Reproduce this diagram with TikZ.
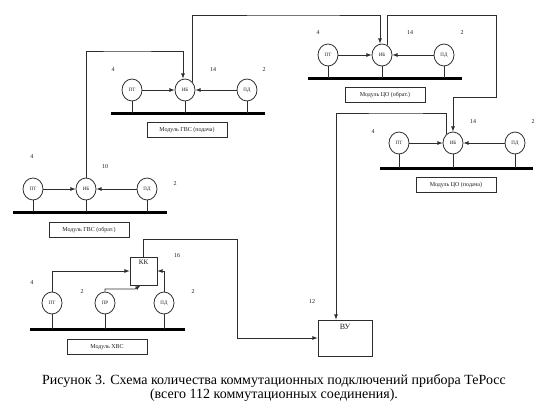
\documentclass[tikz,border=0pt]{standalone}
\usepackage{fontspec}
\setmainfont{Liberation Serif}
\usetikzlibrary{positioning,arrows,shapes.geometric}
\definecolor{colorline}{RGB}{45,45,45}
\definecolor{colortext}{RGB}{29,29,27}

\begin{document}
\begin{tikzpicture}[
    x=1pt, y=-1pt,
    sensor/.style={ellipse,draw=colorline,line width=0.8pt,minimum width=20pt,minimum height=22pt,
        inner sep=0pt,text=colortext,font={\fontsize{5}{5}\selectfont}},
    caption/.style={draw=colorline,line width=0.8pt,minimum width=80pt,minimum height=15pt,
        inner sep=0pt,text=colortext,font={\fontsize{6}{7}\selectfont}},
    unit/.style={draw=colorline,line width=0.8pt,inner sep=0pt},
    count/.style={text=colortext,font={\fontsize{6}{7}\selectfont}},
    bus/.style={draw=black,line width=3pt},
    wire/.style={draw=colorline,line width=0.8pt},
    feed/.style={wire,-latex},
]
    \useasboundingbox (0,0) rectangle (550,416);

    % ГВС (подача)
    \node[sensor] (gpPT) at (132,90) {ПТ};
    \node[sensor] (gpIB) at (185,90) {ИБ};
    \node[sensor] (gpPD) at (247,90) {ПД};
    \coordinate (gpBus) at (111,113);
    \coordinate (gpBusEnd) at (265,113);
    \draw[bus] (gpBus) -- (gpBusEnd);
    \foreach \s in {gpPT,gpIB,gpPD} \draw[wire] (\s.south) -- (\s.south |- gpBus);
    \draw[feed] (gpPT) -- (gpIB);
    \draw[feed] (gpPD) -- (gpIB);
    \node[caption] (gpCap) at (187,130) {Модуль ГВС (подача)};
    \node[count] at (113,70) {4};
    \node[count] at (213,70) {14};
    \node[count] at (264,70) {2};

    % ЦО (обрат.)
    \node[sensor] (coPT) at (328,55) {ПТ};
    \node[sensor] (coIB) at (382,55) {ИБ};
    \node[sensor] (coPD) at (444,55) {ПД};
    \coordinate (coBus) at (308,78);
    \coordinate (coBusEnd) at (462,78);
    \draw[bus] (coBus) -- (coBusEnd);
    \foreach \s in {coPT,coIB,coPD} \draw[wire] (\s.south) -- (\s.south |- coBus);
    \draw[feed] (coPT) -- (coIB);
    \draw[feed] (coPD) -- (coIB);
    \node[caption] (coCap) at (385,95) {Модуль ЦО (обрат.)};
    \node[count] at (318,33) {4};
    \node[count] at (410,33) {14};
    \node[count] at (462,33) {2};

    % ЦО (подача)
    \node[sensor] (cpPT) at (399,143) {ПТ};
    \node[sensor] (cpIB) at (453,143) {ИБ};
    \node[sensor] (cpPD) at (515,143) {ПД};
    \coordinate (cpBus) at (380,168);
    \coordinate (cpBusEnd) at (533,168);
    \draw[bus] (cpBus) -- (cpBusEnd);
    \foreach \s in {cpPT,cpIB,cpPD} \draw[wire] (\s.south) -- (\s.south |- cpBus);
    \draw[feed] (cpPT) -- (cpIB);
    \draw[feed] (cpPD) -- (cpIB);
    \node[caption] (cpCap) at (456,185) {Модуль ЦО (подача)};
    \node[count] at (373,132) {4};
    \node[count] at (473,122) {14};
    \node[count] at (533,122) {2};

    % ГВС (обрат.)
    \node[sensor] (goPT) at (33,189) {ПТ};
    \node[sensor] (goIB) at (86,189) {ИБ};
    \node[sensor] (goPD) at (147,189) {ПД};
    \coordinate (goBus) at (13,212);
    \coordinate (goBusEnd) at (167,212);
    \draw[bus] (goBus) -- (goBusEnd);
    \foreach \s in {goPT,goIB,goPD} \draw[wire] (\s.south) -- (\s.south |- goBus);
    \draw[feed] (goPT) -- (goIB);
    \draw[feed] (goPD) -- (goIB);
    \node[caption] (goCap) at (89,230) {Модуль ГВС (обрат.)};
    \node[count] at (32,157) {4};
    \node[count] at (105,167) {10};
    \node[count] at (175,184) {2};

    % ХВС
    \node[sensor] (hvPT) at (52,303) {ПТ};
    \node[sensor] (hvPR) at (105,303) {ПР};
    \node[sensor] (hvPD) at (164,303) {ПД};
    \coordinate (hvBus) at (30,329);
    \coordinate (hvBusEnd) at (185,329);
    \draw[bus] (hvBus) -- (hvBusEnd);
    \foreach \s in {hvPT,hvPR,hvPD} \draw[wire] (\s.south) -- (\s.south |- hvBus);
    \node[caption] (hvCap) at (107,347) {Модуль ХВС};
    \node[count] at (32,283) {4};
    \node[count] at (82,292) {2};
    \node[count] at (193,292) {2};

    \node[unit,minimum width=27pt,minimum height=28pt,
        label={[text=colortext,font={\fontsize{7}{8}\selectfont},anchor=north,inner sep=3pt]north:КК}] (kk) at (143.5,271) {};
    \node[count] at (177,256) {16};

    \node[unit,minimum width=54pt,minimum height=36pt,
        label={[text=colortext,font={\fontsize{8}{9}\selectfont},anchor=north,inner sep=4pt]north:ВУ}] (vu) at (345,338) {};
    \node[count] at (312,302) {12};

    % коммутация
    \draw[feed] (hvPT.north) |- (kk.west);
    \draw[feed] (hvPD.north) |- (kk.east);
    \draw[feed] (hvPR.north) |- (135,289) -- ([xshift=-3pt]kk.south);
    \draw[feed] (goIB.north) |- (120,51) -| ([xshift=-2pt]gpIB.north);
    \draw[feed] (gpIB.50) |- (300,15) -| ([xshift=-2pt]coIB.north);
    \draw[feed] (coIB.60) |- (496,15) -- (496,97) -| (cpIB.north);
    \draw[feed] (cpIB.125) |- (400,113) -| ([xshift=-9pt]vu.north);
    \draw[feed] (kk.north) |- (237,239) -- (237,338) -- (vu.west);

    \node[text=black,font={\fontsize{14}{14.5}\selectfont},align=center] (figCap) at (274,388)
        {Рисунок 3. Схема количества коммутационных подключений прибора ТеРосс\\
        (всего 112 коммутационных соединения).};

\end{tikzpicture}
\end{document}
